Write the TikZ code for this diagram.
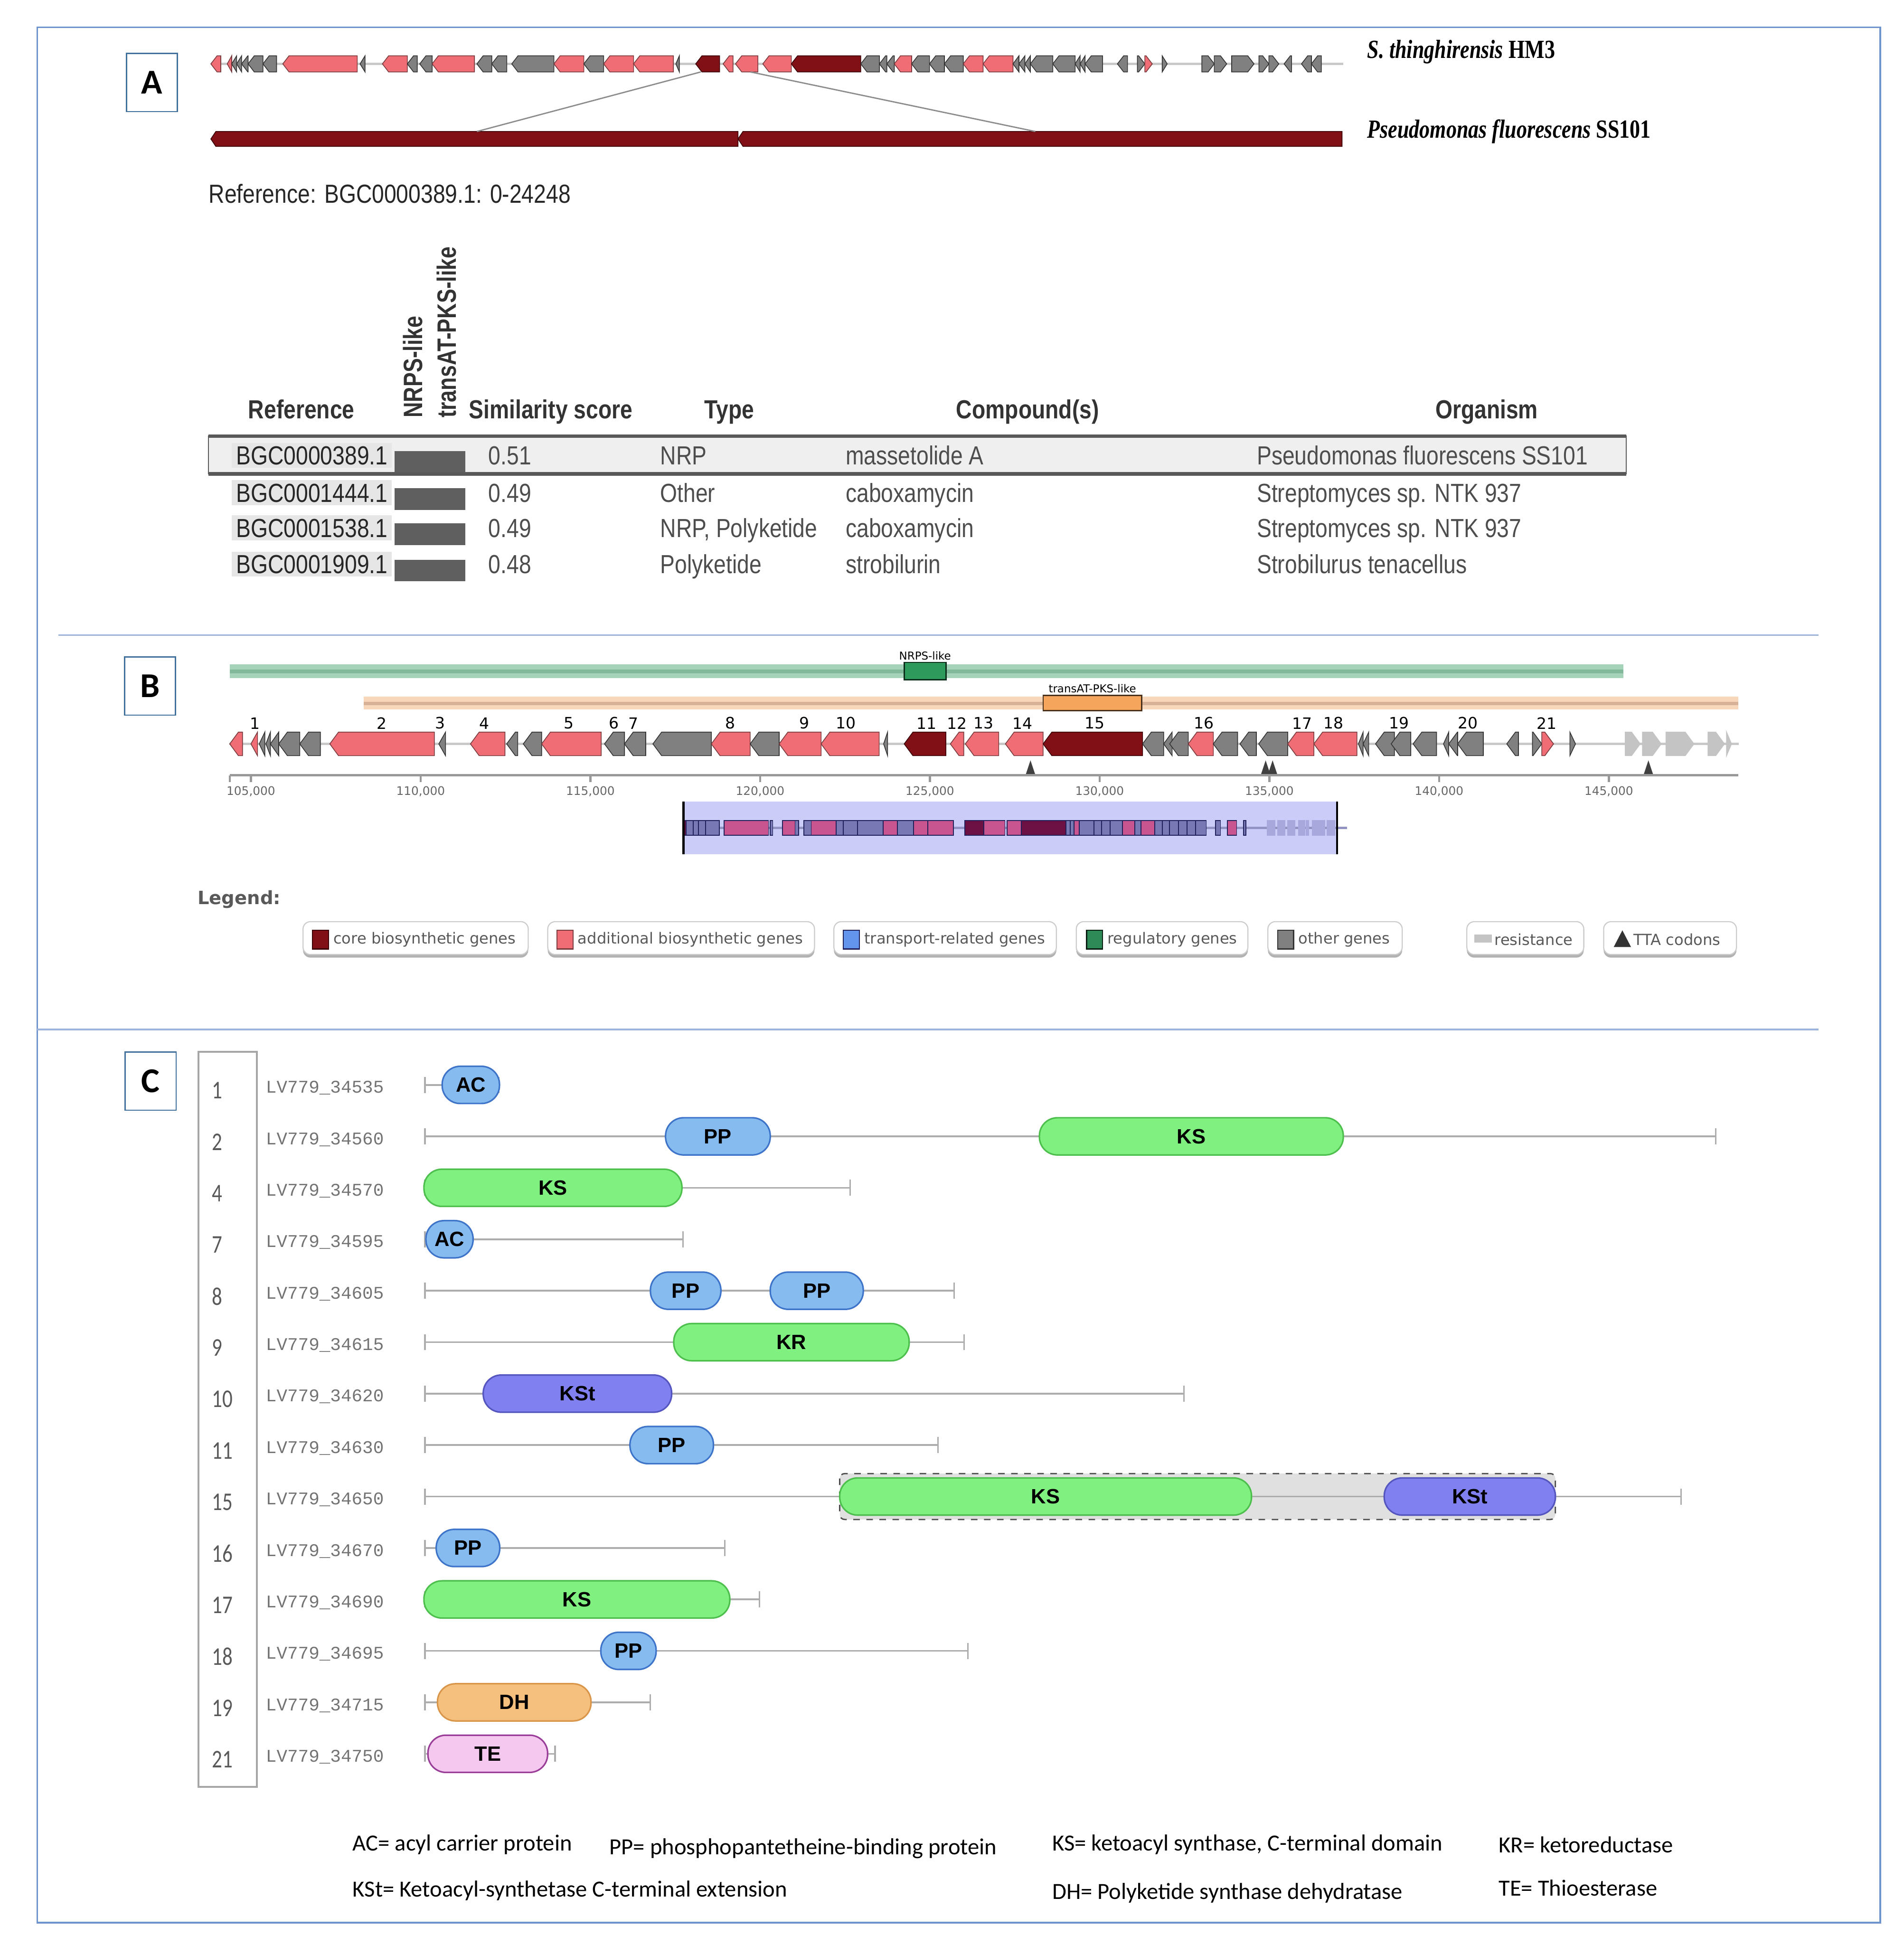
\documentclass[tikz,border=0pt]{standalone}
\usepackage{fontspec}
\usetikzlibrary{arrows.meta,positioning,calc}
\setmainfont{Liberation Sans}
\newfontfamily\tabfont[FakeStretch=0.84]{Liberation Sans}
\newfontfamily\rotfont[FakeStretch=0.8]{Liberation Sans}
\newfontfamily\spfont[FakeStretch=0.8]{Liberation Serif}
\newfontfamily\djfont{DejaVu Sans}
\newfontfamily\calfont{Carlito}
\newfontfamily\cnumfont[FakeStretch=0.8]{Carlito}
\newfontfamily\idfont{Liberation Mono}

\definecolor{frameBlue}{HTML}{6F94CC}
\definecolor{sepBlue}{HTML}{9DB3D9}
\definecolor{labBlue}{HTML}{41719C}
\definecolor{genePink}{HTML}{F16D75}
\definecolor{genePinkD}{HTML}{7A3B3E}
\definecolor{geneCore}{HTML}{810F16}
\definecolor{geneCoreD}{HTML}{3B0508}
\definecolor{geneGrey}{HTML}{808080}
\definecolor{geneGreyD}{HTML}{333333}
\definecolor{geneRes}{HTML}{C4C4C4}
\definecolor{trackGrey}{HTML}{C8C8C8}
\definecolor{txtDark}{HTML}{333333}
\definecolor{txtMid}{HTML}{4D4D4D}
\definecolor{cellGrey}{HTML}{E6E6E6}
\definecolor{barGrey}{HTML}{5F5F5F}
\definecolor{rowHi}{HTML}{EFEFEF}
\definecolor{nrpsLight}{HTML}{A4D3B9}
\definecolor{nrpsStripe}{HTML}{82B99B}
\definecolor{nrpsBox}{HTML}{2E9B5D}
\definecolor{pksLight}{HTML}{F8D6BA}
\definecolor{pksStripe}{HTML}{D8B298}
\definecolor{pksBox}{HTML}{F5A55C}
\definecolor{regFill}{HTML}{CCCCF8}
\definecolor{regPink}{HTML}{C8558F}
\definecolor{regCore}{HTML}{6D1043}
\definecolor{regGrey}{HTML}{7878B4}
\definecolor{regFade}{HTML}{A8A8DC}
\definecolor{regLine}{HTML}{1F1F5A}
\definecolor{transBlue}{HTML}{6495ED}
\definecolor{regGreen}{HTML}{2E8B57}
\definecolor{acFill}{HTML}{86BBF0}
\definecolor{acLine}{HTML}{3D73C8}
\definecolor{ksFill}{HTML}{80F080}
\definecolor{ksLine}{HTML}{4DBF4D}
\definecolor{kstFill}{HTML}{8080F0}
\definecolor{kstLine}{HTML}{5555C0}
\definecolor{dhFill}{HTML}{F5C07E}
\definecolor{dhLine}{HTML}{D9964A}
\definecolor{teFill}{HTML}{F5C8F0}
\definecolor{teLine}{HTML}{9A3D98}

\tikzset{
  frameline/.style={draw=frameBlue, line width=0.8pt},
  sepline/.style={draw=sepBlue, line width=0.8pt},
  panlab/.style={draw=labBlue, line width=0.6pt, fill=white, minimum width=0.82cm,
              minimum height=0.94cm, inner sep=0pt, font=\calfont\bfseries\fontsize{16}{18}\selectfont},
  gpink/.style={fill=genePink, draw=genePinkD, line width=0.35pt},
  gcore/.style={fill=geneCore, draw=geneCoreD, line width=0.35pt},
  ggrey/.style={fill=geneGrey, draw=geneGreyD, line width=0.35pt},
  gres/.style={fill=geneRes, draw=geneRes, line width=0.35pt},
  rp/.style={fill=regPink, draw=regLine, line width=0.4pt},
  rc/.style={fill=regCore, draw=regLine, line width=0.4pt},
  rg/.style={fill=regGrey, draw=regLine, line width=0.4pt},
  rf/.style={fill=regFade, draw=regFade, line width=0.4pt},
  trackline/.style={draw=trackGrey, line width=1.1pt},
  zoomline/.style={draw=black!45, line width=0.6pt},
  spname/.style={font=\spfont\fontsize{12}{14}\selectfont, inner sep=0pt},
  tabtxt/.style={font=\tabfont\fontsize{12}{14}\selectfont, text=txtMid, inner sep=0pt},
  tabhead/.style={font=\tabfont\bfseries\fontsize{12}{14}\selectfont, text=txtDark, inner sep=0pt},
  rothead/.style={font=\rotfont\bfseries\fontsize{12.2}{14}\selectfont, text=txtDark, inner sep=0pt},
  tiny lab/.style={font=\djfont\fontsize{5}{6}\selectfont, inner sep=0pt},
  gnum/.style={font=\djfont\fontsize{7.2}{8}\selectfont, inner sep=0pt},
  ticklab/.style={font=\djfont\fontsize{5.4}{6}\selectfont, text=black!60, inner sep=0pt},
  axisline/.style={draw=black!40, line width=1pt},
  tta/.style={fill=black!75},
  legbox/.style={fill=white, draw=black!20, line width=0.5pt, rounded corners=1.2mm},
  legshade/.style={fill=black!30, rounded corners=1.2mm},
  legtxt/.style={font=\djfont\fontsize{7}{8}\selectfont, text=black!65, inner sep=0pt},
  legkey/.style={line width=0.5pt},
  rownum/.style={font=\cnumfont\fontsize{11.7}{13}\selectfont, text=black!65, inner sep=0pt},
  geneid/.style={font=\idfont\fontsize{8.2}{10}\selectfont, text=black!55, inner sep=0pt},
  track/.style={draw=black!32, line width=0.8pt,
              {Bar[width=2.6mm,line width=0.7pt]}-{Bar[width=2.6mm,line width=0.7pt]}},
  acdom/.style={fill=acFill, draw=acLine, line width=0.7pt},
  ksdom/.style={fill=ksFill, draw=ksLine, line width=0.7pt},
  kstdom/.style={fill=kstFill, draw=kstLine, line width=0.7pt},
  dhdom/.style={fill=dhFill, draw=dhLine, line width=0.7pt},
  tedom/.style={fill=teFill, draw=teLine, line width=0.7pt},
  domlab/.style={font=\bfseries\fontsize{9.5}{11}\selectfont, inner sep=0pt},
  pdbox/.style={fill=black!12, draw=black!70, dashed, line width=0.6pt, rounded corners=0.8mm},
  capt/.style={font=\calfont\fontsize{10.6}{12}\selectfont, inner sep=0pt},
}

% gene arrows: x1, x2, style (uses \gy centre, \gh half height, \ga head length)
\newcommand{\lgene}[3]{%
  \pgfmathsetmacro{\hd}{min(\ga,#2-#1)}%
  \filldraw[#3] (#1,\gy) -- (#1+\hd,\gy-\gh) -- (#2,\gy-\gh) -- (#2,\gy+\gh) -- (#1+\hd,\gy+\gh) -- cycle;}
\newcommand{\rgene}[3]{%
  \pgfmathsetmacro{\hd}{min(\ga,#2-#1)}%
  \filldraw[#3] (#2,\gy) -- (#2-\hd,\gy-\gh) -- (#1,\gy-\gh) -- (#1,\gy+\gh) -- (#2-\hd,\gy+\gh) -- cycle;}
% protein domain: name, x1, x2, row, style, label
\newcommand{\pdom}[6]{%
  \pgfmathsetmacro{\dy}{874.6+41.48*#4}%
  \filldraw[#5, rounded corners=2.9mm] (#2,\dy-15) rectangle (#3,\dy+15);
  \node[domlab] (#1) at ({(#2+#3)/2},\dy) {#6};}

\begin{document}
\begin{tikzpicture}[x=0.02cm,y=-0.02cm]
  \useasboundingbox (0,0) rectangle (1535,1568);
  % frame and separators
  \draw[frameline] (30,22) rectangle (1516,1550);
  \draw[sepline] (47,512) -- (1466,512);
  \draw[sepline] (30,830) -- (1466,830);
  \node[panlab] (labA) at (122.5,66.5) {A};
  \node[panlab] (labB) at (121,553) {B};
  \node[panlab] (labC) at (121.5,871.5) {C};

  % ---------------- panel A ----------------
  \draw[trackline] (170,51.5) -- (1083,51.5);
  \def\gy{51.5}\def\gh{6.5}\def\ga{5}
  \foreach \a/\b/\s in {170/178/gpink,183.2/186.8/gpink,186.8/190.8/ggrey,190.8/194.8/ggrey,
      194.8/200/ggrey,200/212/ggrey,212/223/ggrey,228/288/gpink,290.3/294.3/ggrey,
      308.3/328.4/gpink,328.4/336.4/ggrey,338.4/348.4/ggrey,348.4/382.5/gpink,
      384.5/396.5/ggrey,396.5/408.6/ggrey,412.6/446.6/ggrey,446.6/470.7/gpink,
      470.7/486.7/ggrey,486.7/510.8/gpink,510.8/542.9/gpink,544.9/547.7/ggrey,
      560.9/580.2/gcore,583/591/gpink,593/611/gpink,615/638/gpink,638/694/gcore,
      694/709/ggrey,709/715/ggrey,715/721/ggrey,721/735/gpink,735/749.4/ggrey,
      749.4/761.4/ggrey,761.4/776.6/ggrey,776.6/792.6/gpink,792.6/816.7/gpink,
      816.7/821.5/ggrey,821.5/826.3/ggrey,826.3/830.7/ggrey,830.7/848.8/ggrey,
      848.8/866.8/ggrey,866.8/870.8/ggrey,870.8/874.8/ggrey,874.8/888.9/ggrey,
      900.9/909/ggrey,1035.3/1041.3/ggrey,1049.3/1057.3/ggrey,1057.3/1065.3/ggrey}
    {\lgene{\a}{\b}{\s}}
  \foreach \a/\b/\s in {917/923/ggrey,923/929/gpink,937/941/ggrey,969/979/ggrey,
      979/989/ggrey,993/1011/ggrey,1015/1023/ggrey,1023/1031/ggrey}
    {\rgene{\a}{\b}{\s}}
  % reference cluster
  \def\gy{112}\def\gh{6}\def\ga{4}
  \lgene{170}{595}{gcore}
  \lgene{595}{1082}{gcore}
  \coordinate (hitL) at (565,58);
  \coordinate (hitR) at (605,58);
  \coordinate (refL) at (384.5,106);
  \coordinate (refR) at (834.7,106);
  \draw[zoomline] (hitL) -- (refL);
  \draw[zoomline] (hitR) -- (refR);
  \node[spname, anchor=west] (spQ) at (1102,42) {\bfseries\itshape S. thinghirensis \upshape HM3};
  \node[spname, anchor=west] (spR) at (1102,106) {\bfseries\itshape Pseudomonas fluorescens \upshape SS101};
  \node[tabtxt, text=black!85, anchor=west] (refline) at (168,156) {Reference: BGC0000389.1: 0-24248};

  % table
  \node[tabhead, anchor=base] (hRef) at (243,337.5) {Reference};
  \node[rothead, rotate=90, anchor=west] (hNrps) at (333,337) {NRPS-like};
  \node[rothead, rotate=90, anchor=west] (hPks) at (360,337) {transAT-PKS-like};
  \node[tabhead, anchor=base] (hSim) at (444,337.5) {Similarity score};
  \node[tabhead, anchor=base] (hType) at (588,337.5) {Type};
  \node[tabhead, anchor=base] (hComp) at (828.5,337.5) {Compound(s)};
  \node[tabhead, anchor=base] (hOrg) at (1198.6,337.5) {Organism};
  \filldraw[fill=rowHi, draw=black!65, line width=0.5pt] (168,351.5) rectangle (1311,382);
  \draw[black!65, line width=1.6pt] (168,351.5) -- (1311,351.5);
  \draw[black!65, line width=1.6pt] (168,382) -- (1311,382);
  \foreach \yc in {367,397.2,425.5,454.7}{
    \fill[cellGrey] (187,\yc-10) rectangle (316,\yc+10);
    \fill[barGrey] (318,\yc-3.5) rectangle (375,\yc+14);
  }
  \node[tabtxt, text=black!85, anchor=base] (ref1) at (251.5,374.5) {BGC0000389.1};
  \node[tabtxt, text=black!85, anchor=base] (ref2) at (251.5,404.7) {BGC0001444.1};
  \node[tabtxt, text=black!85, anchor=base] (ref3) at (251.5,433) {BGC0001538.1};
  \node[tabtxt, text=black!85, anchor=base] (ref4) at (251.5,462.2) {BGC0001909.1};
  \node[tabtxt, anchor=base west] (sc1) at (393.5,374.5) {0.51};
  \node[tabtxt, anchor=base west] (sc2) at (393.5,404.7) {0.49};
  \node[tabtxt, anchor=base west] (sc3) at (393.5,433) {0.49};
  \node[tabtxt, anchor=base west] (sc4) at (393.5,462.2) {0.48};
  \node[tabtxt, anchor=base west] (ty1) at (532,374.5) {NRP};
  \node[tabtxt, anchor=base west] (ty2) at (532,404.7) {Other};
  \node[tabtxt, anchor=base west] (ty3) at (532,433) {NRP, Polyketide};
  \node[tabtxt, anchor=base west] (ty4) at (532,462.2) {Polyketide};
  \node[tabtxt, anchor=base west] (cp1) at (681.5,374.5) {massetolide A};
  \node[tabtxt, anchor=base west] (cp2) at (681.5,404.7) {caboxamycin};
  \node[tabtxt, anchor=base west] (cp3) at (681.5,433) {caboxamycin};
  \node[tabtxt, anchor=base west] (cp4) at (681.5,462.2) {strobilurin};
  \node[tabtxt, anchor=base west] (org1) at (1013,374.5) {Pseudomonas fluorescens SS101};
  \node[tabtxt, anchor=base west] (org2) at (1013,404.7) {Streptomyces sp. NTK 937};
  \node[tabtxt, anchor=base west] (org3) at (1013,433) {Streptomyces sp. NTK 937};
  \node[tabtxt, anchor=base west] (org4) at (1013,462.2) {Strobilurus tenacellus};

  % ---------------- panel B ----------------
  % candidate cluster bars
  \fill[nrpsLight] (185.3,535.6) rectangle (1309,546.7);
  \fill[nrpsStripe] (185.3,539.8) rectangle (1309,543);
  \filldraw[fill=nrpsBox, draw=black!70!nrpsBox, line width=0.6pt] (729,534) rectangle (762.6,548);
  \node[tiny lab] (lbNrps) at (745.8,528.5) {NRPS-like};
  \fill[pksLight] (293.3,561.5) rectangle (1401.6,572);
  \fill[pksStripe] (293.3,565.6) rectangle (1401.6,568.4);
  \filldraw[fill=pksBox, draw=black!70!pksBox, line width=0.6pt] (841,560.5) rectangle (920.5,573);
  \node[tiny lab] (lbPks) at (880.7,555) {transAT-PKS-like};
  % genes
  \draw[trackline] (185,599.7) -- (1402,599.7);
  \def\gy{599.7}\def\gh{9.5}\def\ga{7}
  \foreach \a/\b/\s in {185.2/195.5/gpink,202.3/207.6/gpink,209/213.5/ggrey,214.4/218/ggrey,
      218/224.7/ggrey,224.7/241.7/ggrey,241.7/258.3/ggrey,265.9/350.2/gpink,353.8/359.2/ggrey,
      379.3/407.1/gpink,408.5/417.4/ggrey,421.9/436.7/ggrey,436.7/484.7/gpink,487.4/503.5/ggrey,
      503.5/520.6/ggrey,526.4/573.5/ggrey,573.5/604.8/gpink,604.8/628.2/ggrey,628.2/662/gpink,
      662/708.8/gpink,712.4/715.6/ggrey,729/762.6/gcore,766.2/777/gpink,778.3/805.2/gpink,
      810.6/841/gpink,841/921.2/gcore,921.2/938.2/ggrey,938.2/945/ggrey,943/958/ggrey,
      958/978.2/gpink,978.2/997.8/ggrey,999.7/1012.9/ggrey,1014.8/1038.2/ggrey,
      1038.2/1059.3/gpink,1059.3/1094/gpink,1095.2/1099/ggrey,1099/1103.5/ggrey,
      1109/1124.2/ggrey,1121.6/1137.4/ggrey,1139.3/1158.2/ggrey,1163.8/1168/ggrey,
      1168/1175.2/ggrey,1175.2/1195.9/ggrey,1214.8/1224.2/ggrey}
    {\lgene{\a}{\b}{\s}}
  \foreach \a/\b/\s in {1235.5/1243/ggrey,1243/1252.5/gpink,1265.7/1270.2/ggrey,
      1310.3/1322.4/gres,1324.2/1339.3/gres,1343.1/1365.7/gres,1377/1390.3/gres,1392/1396/gres}
    {\rgene{\a}{\b}{\s}}
  \foreach \n/\x in {1/205.4,2/307.6,3/354.7,4/390.6,5/458.7,6/495,7/510.7,8/588.7,9/648.3,
      10/682,11/747,12/771.6,13/793,14/824.5,15/882.7,16/970.6,17/1049.9,18/1075.2,
      19/1128,20/1183.5,21/1246.9}
    {\node[gnum] (gn\n) at (\x,583) {\n};}
  % TTA codons and ruler
  \foreach \x in {830.8,1020.4,1026,1329}
    {\fill[tta] (\x-4,625) -- (\x,613) -- (\x+4,625) -- cycle;}
  \draw[axisline] (185.3,625) -- (1401.6,625);
  \draw[axisline] (185.3,625) -- (185.3,630.5);
  \foreach \k in {105,110,...,145}{
    \pgfmathsetmacro{\tx}{202.3+(\k-105)*27.37}
    \draw[axisline] (\tx,625) -- (\tx,630.5);
    \node[ticklab] (tk\k) at (\tx,638) {\k,000};
  }
  % region hit
  \fill[regFill] (551,646) rectangle (1078,688.5);
  \draw[regGrey!80, line width=1.2pt] (551,667.5) -- (1086,667.5);
  \foreach \a/\b/\s in {551/553/rc,553/559/rg,559/563/rg,563/569/rg,569/580/rg,583.8/619.6/rp,
      621/623/rg,631/641/rp,641/644/rg,648/654/rg,654/674/rp,674/680/rg,680/691.4/rg,
      691.4/712/rg,712/723.4/rp,723.4/736.6/rg,736.6/748/rp,748/768.7/rp,778/793.3/rc,
      793.3/810.2/rp,812/823.4/rp,823.4/859.3/rc,859.3/863/rg,863/866/rg,866/870/rp,
      870/882/rg,882/888/rg,888/895/rg,895/905/rg,905/915/rp,915/920/rg,920/931/rp,
      931/937/rg,937/943/rg,943/950/rg,950/957/rg,957/964/rg,964/972.5/rg,980/984/rg,
      989.5/997/rp,1002.7/1004.6/rg,1021.6/1028/rf,1030/1036/rf,1038/1044/rf,
      1047/1052/rf,1053/1055/rf,1058/1068/rf,1070/1076/rf}
    {\filldraw[\s] (\a,661.5) rectangle (\b,673.5);}
  \draw[black, line width=1pt] (551,646) -- (551,688.5);
  \draw[black, line width=1pt] (1078,646) -- (1078,688.5);

  % legend
  \node[font=\djfont\bfseries\fontsize{8.4}{10}\selectfont, text=black!65, anchor=west, inner sep=0pt]
    (legHead) at (159,725) {Legend:};
  \foreach \xa/\xb [count=\i] in {244.3/425.9,441.6/656.7,672.3/851.7,867.7/1006.1,
      1022.2/1130.5,1182.6/1276.9,1292.9/1400}{
    \fill[legshade] (\xa,746) rectangle (\xb,772);
    \filldraw[legbox] (\xa,743) rectangle (\xb,769.5);
  }
  \foreach \xk/\fc/\dc/\t [count=\i] in {252/geneCore/geneCoreD/core biosynthetic genes,
      449/genePink/genePinkD/additional biosynthetic genes,
      680/transBlue/regLine/transport-related genes,
      876/regGreen/black!80!regGreen/regulatory genes,
      1030/geneGrey/geneGreyD/other genes}{
    \filldraw[legkey, fill=\fc, draw=\dc] (\xk,750) rectangle (\xk+13,765);
    \node[legtxt, anchor=west] (lt\i) at (\xk+16.5,757.5) {\t};
  }
  \fill[geneRes] (1188.6,753.5) rectangle (1202.7,760);
  \node[legtxt, anchor=west] (lt6) at (1204.6,757.5) {resistance};
  \fill[black!80] (1301,763.5) -- (1308,750) -- (1315,763.5) -- cycle;
  \node[legtxt, anchor=west] (lt7) at (1316.7,757.5) {TTA codons};

  % ---------------- panel C ----------------
  \draw[black!35, line width=0.8pt] (160,848) rectangle (207,1440.5);
  \filldraw[pdbox] (677,{874.6+41.48*8-18.5}) rectangle (1254,{874.6+41.48*8+18.5});
  \foreach \n/\id/\xe [count=\i from 0] in {1/34535/402.7,2/34560/1384,4/34570/686,
      7/34595/551.4,8/34605/770,9/34615/778,10/34620/955,11/34630/757,15/34650/1356,
      16/34670/585.1,17/34690/613,18/34695/781,19/34715/525,21/34750/448.1}{
    \pgfmathsetmacro{\yy}{874.6+41.48*\i}
    \node[rownum, anchor=west] (num\i) at (170.5,\yy+4.5) {\n};
    \node[geneid, anchor=west] (gid\i) at (214,\yy+2.5) {LV779\_\id};
    \coordinate (ts\i) at (342,\yy);
    \coordinate (te\i) at (\xe,\yy);
    \draw[track] (ts\i) -- (te\i);
  }
  \pdom{d0}{356.5}{402.7}{0}{acdom}{AC}
  \pdom{d1a}{536.6}{621}{1}{acdom}{PP}
  \pdom{d1b}{838}{1083}{1}{ksdom}{KS}
  \pdom{d2}{341.8}{549.8}{2}{ksdom}{KS}
  \pdom{d3}{343.4}{381.4}{3}{acdom}{AC}
  \pdom{d4a}{524.4}{581.2}{4}{acdom}{PP}
  \pdom{d4b}{621}{696}{4}{acdom}{PP}
  \pdom{d5}{543.2}{733}{5}{ksdom}{KR}
  \pdom{d6}{389.6}{541.5}{6}{kstdom}{KSt}
  \pdom{d7}{507.9}{575.2}{7}{acdom}{PP}
  \pdom{d8a}{677}{1009}{8}{ksdom}{KS}
  \pdom{d8b}{1116}{1254}{8}{kstdom}{KSt}
  \pdom{d9}{351.7}{402.9}{9}{acdom}{PP}
  \pdom{d10}{341.8}{588.4}{10}{ksdom}{KS}
  \pdom{d11}{484.4}{529}{11}{acdom}{PP}
  \pdom{d12}{352.7}{476.5}{12}{dhdom}{DH}
  \pdom{d13}{345}{441.5}{13}{tedom}{TE}
  % abbreviations
  \node[capt, anchor=west] (capAC) at (284,1487) {AC= acyl carrier protein};
  \node[capt, anchor=west] (capPP) at (491,1490) {PP= phosphopantetheine-binding protein};
  \node[capt, anchor=west] (capKS) at (848,1487) {KS= ketoacyl synthase, C-terminal domain};
  \node[capt, anchor=west] (capKR) at (1208,1487) {KR= ketoreductase};
  \node[capt, anchor=west] (capKSt) at (284,1524) {KSt= Ketoacyl-synthetase C-terminal extension};
  \node[capt, anchor=west] (capDH) at (848,1526) {DH= Polyketide synthase dehydratase};
  \node[capt, anchor=west] (capTE) at (1208,1522) {TE= Thioesterase};
\end{tikzpicture}
\end{document}
